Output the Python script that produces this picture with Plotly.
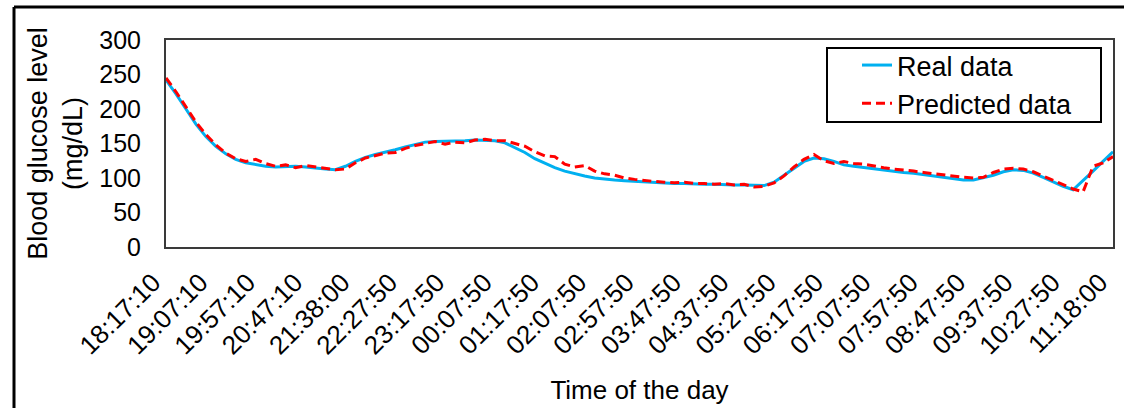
import plotly.graph_objects as go

tick_labels = ["18:17:10", "19:07:10", "19:57:10", "20:47:10", "21:38:00", "22:27:50",
               "23:17:50", "00:07:50", "01:17:50", "02:07:50", "02:57:50", "03:47:50",
               "04:37:50", "05:27:50", "06:17:50", "07:07:50", "07:57:50", "08:47:50",
               "09:37:50", "10:27:50", "11:18:00"]

real_data = [242, 222, 200, 178, 160, 146, 135, 127, 122, 119,
             117, 116, 117, 117, 116, 114, 113, 112, 117, 124,
             130, 134, 137, 141, 145, 149, 152, 153, 153, 153,
             154, 155, 155, 154, 151, 144, 137, 128, 121, 115,
             110, 106, 103, 100, 98, 97, 96, 95, 94, 93,
             93, 92, 92, 91, 91, 91, 90, 90, 90, 90,
             89, 94, 104, 114, 124, 129, 128, 124, 119, 117,
             115, 113, 111, 109, 108, 107, 105, 103, 101, 98,
             97, 97, 100, 104, 109, 112, 111, 107, 101, 94,
             88, 83, 96, 110, 124, 138]

predicted_data = [245, 225, 203, 181, 163, 148, 136, 128, 124, 127,
                  121, 117, 119, 115, 118, 116, 114, 112, 113, 122,
                  129, 132, 136, 137, 143, 147, 150, 153, 149, 152,
                  151, 155, 156, 154, 154, 150, 146, 138, 132, 131,
                  120, 116, 118, 110, 106, 104, 100, 98, 96, 95,
                  94, 93, 94, 92, 92, 91, 92, 90, 91, 87,
                  88, 93, 103, 116, 127, 134, 125, 121, 124, 121,
                  120, 117, 115, 113, 112, 110, 108, 106, 104, 102,
                  101, 100, 101, 108, 113, 114, 113, 109, 103, 96,
                  90, 84, 80, 117, 122, 131]

x_idx = list(range(len(real_data)))
n_int = len(tick_labels) - 1
tick_vals = [i * (len(real_data) - 1) / n_int for i in range(len(tick_labels))]

FONT = "Liberation Sans, Arial, sans-serif"

fig = go.Figure()
fig.add_trace(go.Scatter(x=x_idx, y=real_data, mode="lines", name="Real data",
                         line=dict(color="#00B0F0", width=3)))
fig.add_trace(go.Scatter(x=x_idx, y=predicted_data, mode="lines", name="Predicted data",
                         line=dict(color="#FF0000", width=3, dash="9px,5px")))

W, H = 1124, 408
L, R, T, B = 166, 11, 40, 161
pw, ph = W - L - R, H - T - B

def px(xp):
    return (xp - L) / pw

def py(yp):
    return (H - B - yp) / ph

fig.update_layout(
    width=W, height=H,
    margin=dict(l=L, r=R, t=T, b=B, autoexpand=False),
    paper_bgcolor="white", plot_bgcolor="white",
    font=dict(family=FONT, size=25, color="black"),
    showlegend=True,
    legend=dict(x=px(857), y=py(41), xanchor="left", yanchor="top",
                bgcolor="rgba(0,0,0,0)", borderwidth=0,
                font=dict(size=27, color="black")),
    xaxis=dict(range=[0, len(real_data) - 1], tickmode="array", tickvals=tick_vals,
               ticktext=tick_labels, tickangle=-45, showgrid=False, zeroline=False,
               showline=True, mirror=True, linecolor="#3a3a3a", linewidth=2,
               ticks="", tickfont=dict(size=26), automargin=False,
               ticklabeloverflow="allow", ticklabelshift=-13, ticklabelstandoff=8,
               title=dict(text="Time of the day", font=dict(size=26), standoff=22)),
    yaxis=dict(range=[0, 300], tickvals=[0, 50, 100, 150, 200, 250, 300],
               showgrid=False, zeroline=False, showline=True, mirror=True,
               linecolor="#3a3a3a", linewidth=2, ticks="", ticklabelstandoff=18,
               tickfont=dict(size=25), automargin=False,
               title=dict(text="Blood glucose level<br>(mg/dL)", font=dict(size=27), standoff=9)),
    shapes=[
        dict(type="rect", xref="paper", yref="paper", x0=px(827), x1=px(1101),
             y0=py(122), y1=py(48), line=dict(color="black", width=2), layer="above"),
        dict(type="line", xref="paper", yref="paper", x0=px(14), x1=px(1126),
             y0=py(7), y1=py(7), line=dict(color="black", width=3)),
        dict(type="line", xref="paper", yref="paper", x0=px(14), x1=px(14),
             y0=py(7), y1=py(410), line=dict(color="black", width=3)),
    ],
)

fig.write_html("out.html", config={"displayModeBar": False},
               post_script="document.body.style.margin='0';document.body.style.overflow='hidden';")
